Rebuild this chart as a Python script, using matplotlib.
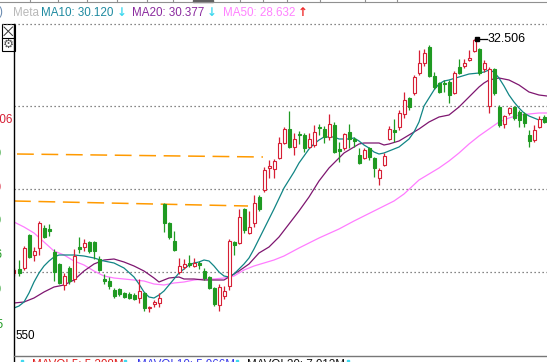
import numpy as np
import matplotlib.pyplot as plt
from matplotlib.lines import Line2D
from matplotlib.patches import Rectangle

plt.rcParams['font.family'] = ['Liberation Sans', 'DejaVu Sans']

W, H = 547, 362

# daily candles, first one (bar -1) is half hidden behind the left edge
opens = [27.83, 27.91, 27.93, 28.59, 28.19, 28.33, 28.73, 28.71, 28.25, 28.01,
         27.59, 27.93, 27.71, 28.35, 28.35, 28.45, 28.45, 28.11, 27.71, 27.67,
         27.49, 27.51, 27.43, 27.41, 27.39, 27.33, 27.43, 27.13, 27.21, 27.23,
         29.21, 28.83, 28.47, 27.85, 27.95, 28.03, 27.97, 28.03, 27.87, 27.75,
         27.53, 27.19, 27.37, 27.57, 28.45, 28.43, 29.11, 28.63, 28.83, 29.35,
         29.49, 29.93, 29.91, 30.13, 30.43, 30.71, 30.35, 30.61, 30.59, 30.35,
         30.39, 30.75, 30.71, 30.55, 30.79, 30.31, 30.33, 30.65, 30.51, 30.19,
         30.13, 30.33, 30.13, 29.73, 29.99, 30.51, 30.69, 30.75, 31.01, 31.33,
         31.43, 31.83, 32.03, 32.35, 31.77, 31.63, 31.63, 31.65, 31.43, 31.95,
         31.97, 32.09, 32.27, 32.31, 31.91, 31.17, 31.91, 31.15, 30.81, 31.03,
         31.15, 31.05, 31.01, 30.59, 30.49, 30.75, 30.95]
closes = [27.89, 27.83, 28.33, 28.15, 28.27, 28.83, 28.55, 28.67, 27.85, 27.63,
          27.77, 27.67, 28.17, 28.31, 28.43, 28.27, 28.27, 27.89, 27.67, 27.57,
          27.37, 27.41, 27.35, 27.33, 27.31, 27.47, 27.13, 27.15, 27.25, 27.33,
          28.83, 28.55, 28.29, 27.97, 28.01, 27.99, 28.03, 27.99, 27.73, 27.53,
          27.21, 27.55, 27.47, 28.47, 28.39, 28.95, 28.69, 28.75, 29.23, 29.11,
          29.89, 29.97, 30.07, 30.43, 30.71, 30.35, 30.51, 30.59, 30.33, 30.51,
          30.65, 30.73, 30.55, 30.81, 30.25, 30.27, 30.61, 30.51, 30.47, 30.03,
          30.29, 30.15, 29.93, 29.89, 30.17, 30.71, 30.65, 31.03, 31.29, 31.15,
          31.75, 32.03, 32.23, 31.77, 31.55, 31.45, 31.61, 31.39, 31.83, 31.83,
          32.03, 32.13, 32.49, 31.83, 32.03, 31.91, 31.43, 30.79, 30.97, 31.13,
          30.93, 30.89, 30.83, 30.47, 30.69, 30.91, 30.85]
highs = [27.93, 28.09, 28.37, 28.61, 28.35, 28.87, 28.79, 28.81, 28.31, 28.03,
         27.83, 27.97, 28.31, 28.55, 28.51, 28.47, 28.47, 28.17, 27.81, 27.75,
         27.53, 27.53, 27.45, 27.45, 27.43, 27.71, 27.45, 27.17, 27.29, 27.43,
         29.23, 28.85, 28.67, 28.13, 28.11, 28.19, 28.13, 28.07, 27.93, 27.77,
         27.55, 27.61, 27.57, 28.51, 28.47, 29.11, 29.13, 29.07, 29.39, 29.39,
         29.95, 30.09, 30.11, 30.55, 30.75, 31.07, 30.63, 30.67, 30.63, 30.63,
         30.79, 30.81, 30.77, 31.01, 30.85, 30.45, 30.63, 30.81, 30.55, 30.33,
         30.33, 30.35, 30.15, 29.93, 30.23, 30.77, 30.91, 31.09, 31.45, 31.35,
         31.79, 32.29, 32.31, 32.39, 31.85, 31.65, 31.69, 31.69, 31.87, 32.11,
         32.11, 32.29, 32.506, 32.33, 32.09, 31.95, 31.93, 31.19, 30.99, 31.15,
         31.17, 31.09, 31.05, 30.69, 30.79, 30.97, 30.99]
lows = [27.77, 27.77, 27.89, 28.13, 28.07, 28.19, 28.53, 28.57, 27.67, 27.61,
        27.49, 27.61, 27.65, 28.23, 28.27, 28.23, 28.11, 27.87, 27.61, 27.51,
        27.33, 27.37, 27.33, 27.31, 27.29, 27.23, 27.07, 27.05, 27.15, 27.15,
        28.65, 28.51, 28.27, 27.81, 27.91, 27.95, 27.95, 27.91, 27.69, 27.51,
        27.17, 27.07, 27.31, 27.49, 28.19, 28.41, 28.63, 28.61, 28.75, 29.07,
        29.45, 29.73, 29.73, 30.11, 30.41, 30.33, 30.19, 30.41, 30.25, 30.33,
        30.35, 30.59, 30.43, 30.49, 30.23, 30.05, 30.29, 30.33, 30.35, 30.01,
        30.11, 30.09, 29.75, 29.59, 29.97, 30.49, 30.45, 30.69, 30.93, 31.09,
        31.39, 31.79, 31.97, 31.75, 31.51, 31.43, 31.45, 31.23, 31.41, 31.81,
        31.93, 32.07, 32.25, 31.79, 31.85, 31.03, 31.39, 30.75, 30.73, 30.99,
        30.89, 30.75, 30.75, 30.35, 30.45, 30.73, 30.83]

# moving averages (bar index, price)
ma10_x = [-1, 0, 1, 2, 3, 4, 5, 6, 7, 8, 9, 11, 13, 15, 17, 19, 21, 23, 24, 25,
          26, 27, 28, 29, 30, 31, 32, 33, 34, 35, 36, 37, 38, 39, 40, 41, 42, 43,
          44, 45, 46, 47, 48, 49, 50, 51, 53, 55, 56, 57, 58, 59, 60, 61, 63, 64,
          66, 67, 68, 69, 70, 71, 72, 73, 74, 76, 78, 79, 80, 81, 82, 83, 84, 85,
          86, 88, 90, 92, 93, 94, 95, 96, 97, 98, 99, 100, 101, 102, 103, 104, 105.6]
ma10 = [27.13, 27.17, 27.25, 27.43, 27.65, 27.83, 27.97, 28.07, 28.15, 28.19,
        28.19, 28.19, 28.17, 28.13, 28.07, 28.03, 27.93, 27.75, 27.61, 27.45,
        27.35, 27.33, 27.39, 27.47, 27.59, 27.71, 27.83, 27.91, 27.99, 28.03,
        28.05, 28.09, 28.07, 27.97, 27.85, 27.77, 27.75, 27.81, 27.91, 28.01,
        28.13, 28.31, 28.51, 28.71, 28.91, 29.11, 29.53, 29.85, 30.03, 30.17,
        30.31, 30.41, 30.49, 30.55, 30.55, 30.51, 30.51, 30.53, 30.47, 30.39,
        30.33, 30.25, 30.21, 30.23, 30.27, 30.35, 30.51, 30.65, 30.85, 31.17,
        31.33, 31.49, 31.61, 31.67, 31.69, 31.75, 31.81, 31.83, 31.85, 31.89,
        31.85, 31.73, 31.57, 31.39, 31.25, 31.13, 31.03, 30.97, 30.93, 30.89, 30.91]

ma20_x = [-1, 1, 3, 5, 7, 9, 11, 13, 15, 17, 19, 21, 23, 25, 27, 28, 29, 30, 32,
          33, 35, 37, 39, 41, 42, 44, 46, 48, 50, 52, 54, 56, 58, 60, 62, 63, 64,
          65, 66, 67, 68, 69, 71, 72, 73, 74, 76, 78, 80, 82, 84, 86, 88, 90, 92,
          93, 94, 95, 96, 98, 100, 102, 104, 105.6]
ma20 = [27.23, 27.25, 27.33, 27.45, 27.55, 27.59, 27.69, 27.87, 28.01, 28.09,
        28.11, 28.05, 27.97, 27.87, 27.73, 27.65, 27.69, 27.73, 27.75, 27.71,
        27.71, 27.69, 27.69, 27.69, 27.75, 27.87, 28.01, 28.23, 28.35, 28.55,
        28.81, 29.07, 29.35, 29.67, 29.93, 30.03, 30.13, 30.23, 30.29, 30.35,
        30.41, 30.43, 30.43, 30.43, 30.39, 30.41, 30.47, 30.59, 30.71, 30.85,
        30.95, 30.99, 31.15, 31.35, 31.55, 31.63, 31.69, 31.71, 31.73, 31.69,
        31.59, 31.45, 31.39, 31.37]

ma50_x = [-1, 1, 3, 5, 7, 9, 11, 13, 15, 17, 19, 21, 23, 25, 27, 29, 31, 33, 35,
          37, 39, 41, 43, 45, 47, 49, 51, 53, 56, 60, 64, 67, 69, 71, 73, 75, 77,
          80, 82, 84, 86, 88, 90, 92, 94, 96, 98, 100, 102, 104, 105.6]
ma50 = [28.85, 28.75, 28.63, 28.45, 28.27, 28.19, 28.07, 27.99, 27.87, 27.77,
        27.73, 27.71, 27.69, 27.67, 27.61, 27.59, 27.63, 27.65, 27.69, 27.71,
        27.71, 27.73, 27.77, 27.89, 27.97, 28.03, 28.09, 28.17, 28.33, 28.53,
        28.71, 28.87, 28.97, 29.07, 29.17, 29.27, 29.41, 29.69, 29.81, 29.93,
        30.07, 30.23, 30.41, 30.57, 30.71, 30.85, 30.93, 30.99, 31.01, 31.03, 31.03]

# drawn horizontal levels (start/end bar, price)
level1_x = [-0.4, 48.8]
level1 = [30.21, 30.15]
level2_x = [-1, 45.8]
level2 = [29.27, 29.17]

grid_levels = [31.17, 29.51, 27.85]
high_label = '32.506'

UP = '#d61f35'
DOWN = '#1f9a22'


def fx(x):
    return x / W


def fy(y):
    return 1 - y / H


fig = plt.figure(figsize=(W / 100, H / 100), dpi=100)
ax = fig.add_axes([fx(14), 7 / H, 533 / W, 335 / H])
ax.set_xlim(-1, 105.6)
ax.set_ylim(26.19, 32.89)
ax.axis('off')

for g in grid_levels:
    ax.axhline(g, color='#606060', lw=0.9, ls=(0, (1, 2.2)), zorder=1)

ax.plot(level1_x, level1, color='#ff9a00', lw=1.1, ls=(0, (11, 5)), zorder=1)
ax.plot(level2_x, level2, color='#ff9a00', lw=1.1, ls=(0, (11, 5)), zorder=1)

ax.plot(ma50_x, ma50, color='#ff7cff', lw=0.9, zorder=2)
ax.plot(ma20_x, ma20, color='#7e1670', lw=0.9, zorder=2)
ax.plot(ma10_x, ma10, color='#118585', lw=0.9, zorder=2)

o = np.array(opens)
c = np.array(closes)
hi = np.array(highs)
lo = np.array(lows)
bars = np.arange(-1, len(o) - 1)
up = c >= o
cols = np.where(up, UP, DOWN)

ax.vlines(bars, lo, hi, colors=cols, lw=0.9, zorder=3)
ax.bar(bars, np.maximum(np.abs(c - o), 0.02), 0.6, bottom=np.minimum(o, c),
       color=np.where(up, 'white', DOWN), edgecolor=cols, lw=0.8, zorder=4)

# highest high marker
ax.plot([91.6, 93.6], [32.506, 32.506], color='black', lw=0.9, zorder=5)
ax.plot([91.6], [32.506], marker='s', ms=2.2, color='black', zorder=5)
ax.text(93.8, 32.506, high_label, fontsize=9, va='center', ha='left', color='black')

# frame lines
fig.add_artist(Line2D([fx(2), fx(547)], [fy(23.5), fy(23.5)], color='#606060',
                      lw=0.9, ls=(0, (1, 2.2))))
fig.add_artist(Line2D([fx(14.5), fx(14.5)], [fy(24), 0], color='black', lw=1.0))
fig.add_artist(Line2D([fx(14), 1], [fy(355.5), fy(355.5)], color='#777777', lw=1.0))

# top toolbar strip
fig.add_artist(Line2D([0, 1], [fy(1.8), fy(1.8)], color='#909090', lw=0.8))
for tx in [30, 58, 87, 117, 147, 173, 240, 263, 287, 320, 365, 397]:
    fig.add_artist(Line2D([fx(tx), fx(tx)], [1, fy(2)], color='#909090', lw=0.8))
fig.add_artist(Rectangle((fx(193), fy(2.2)), fx(20), 2.2 / H, color='#606060'))

# close / settings buttons
fig.add_artist(Rectangle((fx(2), fy(50.5)), fx(12.5), 26 / H, fill=False,
                         edgecolor='black', lw=0.8))
fig.add_artist(Line2D([fx(2), fx(14.5)], [fy(37.5), fy(37.5)], color='black', lw=0.8))
fig.add_artist(Line2D([fx(4), fx(12.5)], [fy(27), fy(35.5)], color='#333333', lw=0.7))
fig.add_artist(Line2D([fx(4), fx(12.5)], [fy(35.5), fy(27)], color='#333333', lw=0.7))
fig.text(fx(8.3), fy(44), '\u2699', fontsize=9, color='#555555', ha='center',
         va='center', family=['DejaVu Sans'])

# legend row
leg_y = fy(12.5)
fig.text(fx(-1.5), leg_y, ')', fontsize=8.4, color='#6a8ab0', va='center')
fig.text(fx(13), leg_y, 'Meta', fontsize=8.4, color='#b8b8b8', va='center')
fig.text(fx(41), leg_y, 'MA10: 30.120', fontsize=8.4, color='#1e8aa0', va='center')
fig.text(fx(116.5), leg_y, '\u2193', fontsize=8.4, color='#3fd8ef', va='center',
         weight='bold', family=['DejaVu Sans'])
fig.text(fx(132), leg_y, 'MA20: 30.377', fontsize=8.4, color='#8a2a9e', va='center')
fig.text(fx(206.5), leg_y, '\u2193', fontsize=8.4, color='#3fd8ef', va='center',
         weight='bold', family=['DejaVu Sans'])
fig.text(fx(223), leg_y, 'MA50: 28.632', fontsize=8.4, color='#ff82ff', va='center')
fig.text(fx(297.5), leg_y, '\u2191', fontsize=8.4, color='#f02a2a', va='center',
         weight='bold', family=['DejaVu Sans'])

# left price labels, mostly cut off by the window edge
fig.text(fx(12.5), fy(120), '30.306', fontsize=8.4, color='#d61f35', va='center', ha='right')
for yy, txt, col, xr in [(154, '31.20', DOWN, 1.6), (188, '30.70', UP, 1.6),
                         (221, '30.20', DOWN, 1.6), (255, '29.76', DOWN, 2.4),
                         (290, '29.20', DOWN, 1.6), (325, '28.75', DOWN, 3.6)]:
    fig.text(fx(xr), fy(yy), txt, fontsize=8.4, color=col, va='center', ha='right')

fig.text(fx(15), fy(336), '550', fontsize=8.4, color='black', va='center')

# volume pane legend peeking in at the bottom (only the top of the caps shows)
for xx, txt, col in [(32, 'MAVOL5: 5.208M', '#e02020'), (137, 'MAVOL10: 5.966M', '#3a3ae8'),
                     (247, 'MAVOL20: 7.013M', '#111111')]:
    fig.text(fx(xx), fy(368), txt, fontsize=8.4, color=col, va='baseline')
for xx in [21, 124, 236, 347]:
    fig.add_artist(Rectangle((fx(xx), 0), fx(2), 2.5 / H, color='#3fd8ef'))

fig.savefig('out.png', dpi=100)
